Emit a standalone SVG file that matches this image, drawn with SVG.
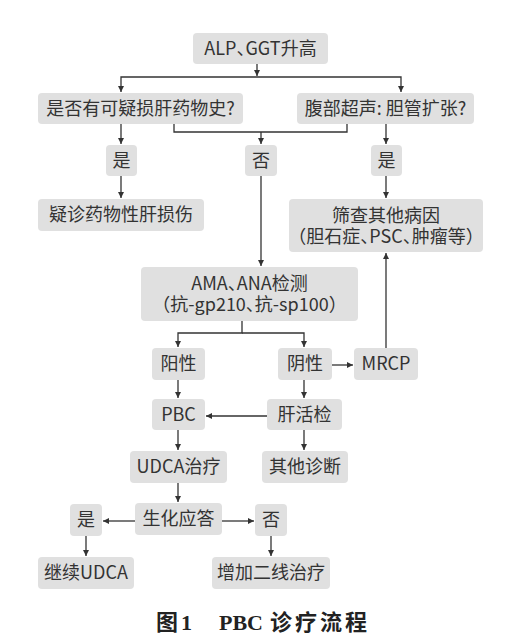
<svg xmlns="http://www.w3.org/2000/svg" width="513" height="637" viewBox="0 0 513 637">
<style>
.box{fill:#e0e0e0;}
.t{font-family:"Noto Sans CJK SC","Noto Sans",sans-serif;font-size:18px;fill:#333;text-anchor:middle;}
.h{font-feature-settings:"halt" 1;}
.c{fill:none;stroke:#333;stroke-width:1.3;}
.cap{font-family:"Liberation Serif","Noto Sans CJK SC",serif;font-weight:bold;font-size:22px;fill:#222;}
</style>
<defs>
<marker id="ah" viewBox="0 0 8 8" refX="8" refY="4" markerWidth="6" markerHeight="6" markerUnits="userSpaceOnUse" orient="auto">
<path d="M0,0 L8,4 L0,8 z" fill="#333"/>
</marker>
</defs>
<rect width="513" height="637" fill="#fff"/>
<g id="connectors">
<path class="c" d="M257,64 V76" marker-end="url(#ah)"/>
<path class="c" d="M257,77 H121 V92" marker-end="url(#ah)"/>
<path class="c" d="M257,77 H401 V92" marker-end="url(#ah)"/>
<path class="c" d="M121,124 V144" marker-end="url(#ah)"/>
<path class="c" d="M174,124 V132 H347 V124"/>
<path class="c" d="M261,132 V144" marker-end="url(#ah)"/>
<path class="c" d="M386,124 V144" marker-end="url(#ah)"/>
<path class="c" d="M121,176 V198" marker-end="url(#ah)"/>
<path class="c" d="M261,176 V266" marker-end="url(#ah)"/>
<path class="c" d="M386,176 V198" marker-end="url(#ah)"/>
<path class="c" d="M242,321 V333 H178 V347" marker-end="url(#ah)"/>
<path class="c" d="M242,333 H304 V347" marker-end="url(#ah)"/>
<path class="c" d="M332,365 H353" marker-end="url(#ah)"/>
<path class="c" d="M386,348 V253" marker-end="url(#ah)"/>
<path class="c" d="M178,380 V398" marker-end="url(#ah)"/>
<path class="c" d="M304,380 V398" marker-end="url(#ah)"/>
<path class="c" d="M267,416 H206" marker-end="url(#ah)"/>
<path class="c" d="M178,430 V450" marker-end="url(#ah)"/>
<path class="c" d="M304,430 V450" marker-end="url(#ah)"/>
<path class="c" d="M178,483 V502" marker-end="url(#ah)"/>
<path class="c" d="M135,521 H103" marker-end="url(#ah)"/>
<path class="c" d="M222,521 H254" marker-end="url(#ah)"/>
<path class="c" d="M86,536 V556" marker-end="url(#ah)"/>
<path class="c" d="M271,536 V556" marker-end="url(#ah)"/>
</g>
<g id="n-alp"><rect class="box" x="193" y="33" width="135" height="31" rx="4"/><text class="t h" x="260.5" y="55">ALP、GGT升高</text></g>
<g id="n-q1"><rect class="box" x="38" y="93" width="205" height="31" rx="4"/><text class="t" x="140.5" y="115">是否有可疑损肝药物史?</text></g>
<g id="n-q2"><rect class="box" x="297" y="93" width="177" height="31" rx="4"/><text class="t" x="385.5" y="115">腹部超声: 胆管扩张?</text></g>
<g id="n-yes1"><rect class="box" x="106" y="145" width="31" height="31" rx="4"/><text class="t" x="121.5" y="167">是</text></g>
<g id="n-no1"><rect class="box" x="245" y="145" width="32" height="31" rx="4"/><text class="t" x="261" y="167">否</text></g>
<g id="n-yes2"><rect class="box" x="371" y="145" width="31" height="31" rx="4"/><text class="t" x="386.5" y="167">是</text></g>
<g id="n-drug"><rect class="box" x="38" y="199" width="166" height="32" rx="4"/><text class="t" x="121" y="221">疑诊药物性肝损伤</text></g>
<g id="n-screen"><rect class="box" x="289" y="199" width="194" height="53" rx="4"/><text class="t" x="386" y="222">筛查其他病因</text><text class="t h" x="386" y="243">（胆石症、PSC、肿瘤等）</text></g>
<g id="n-ama"><rect class="box" x="141" y="267" width="217" height="54" rx="4"/><text class="t h" x="249.5" y="290">AMA、ANA检测</text><text class="t h" x="249.5" y="311">（抗-gp210、抗-sp100）</text></g>
<g id="n-pos"><rect class="box" x="152" y="348" width="53" height="32" rx="4"/><text class="t" x="178.5" y="370">阳性</text></g>
<g id="n-neg"><rect class="box" x="278" y="348" width="54" height="32" rx="4"/><text class="t" x="305" y="370">阴性</text></g>
<g id="n-mrcp"><rect class="box" x="354" y="348" width="64" height="32" rx="4"/><text class="t" x="386" y="370">MRCP</text></g>
<g id="n-pbc"><rect class="box" x="152" y="399" width="53" height="31" rx="4"/><text class="t" x="178.5" y="421">PBC</text></g>
<g id="n-biopsy"><rect class="box" x="267" y="399" width="75" height="31" rx="4"/><text class="t" x="304.5" y="421">肝活检</text></g>
<g id="n-udca"><rect class="box" x="130" y="451" width="97" height="32" rx="4"/><text class="t" x="178.5" y="473">UDCA治疗</text></g>
<g id="n-other"><rect class="box" x="262" y="451" width="86" height="32" rx="4"/><text class="t" x="305" y="473">其他诊断</text></g>
<g id="n-resp"><rect class="box" x="135" y="503" width="87" height="32" rx="4"/><text class="t" x="178.5" y="525">生化应答</text></g>
<g id="n-yes3"><rect class="box" x="70" y="504" width="32" height="32" rx="4"/><text class="t" x="86" y="526">是</text></g>
<g id="n-no3"><rect class="box" x="255" y="504" width="32" height="32" rx="4"/><text class="t" x="271" y="526">否</text></g>
<g id="n-cont"><rect class="box" x="38" y="557" width="96" height="32" rx="4"/><text class="t" x="86" y="579">继续UDCA</text></g>
<g id="n-add"><rect class="box" x="212" y="557" width="118" height="32" rx="4"/><text class="t" x="271" y="579">增加二线治疗</text></g>
<g id="caption">
<text class="cap" x="156" y="630">图<tspan x="181">1</tspan></text>
<text class="cap" x="219" y="630">PBC<tspan x="270" letter-spacing="3">诊疗流程</tspan></text>
</g>
</svg>
